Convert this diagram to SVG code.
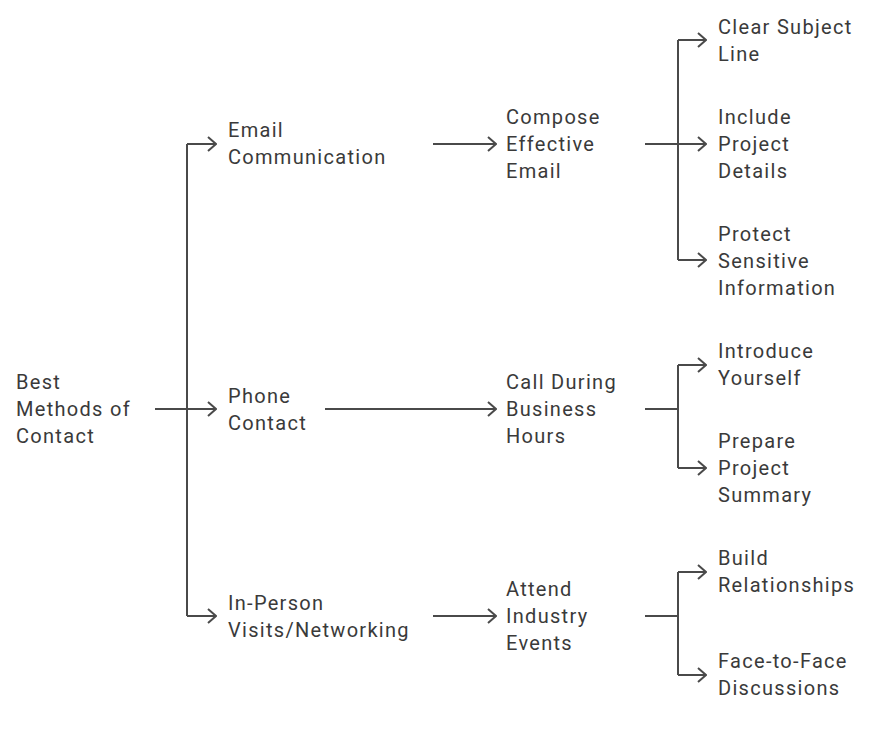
<svg xmlns="http://www.w3.org/2000/svg" width="878" height="729" viewBox="0 0 878 729">
<style>
text{font-family:Roboto,"Liberation Sans",sans-serif;font-size:20px;letter-spacing:1.3px;fill:#3a3a3a}
.c{fill:none;stroke:#4a4a4a;stroke-width:2}
</style>
<defs>
<marker id="a" viewBox="0 0 12 16" refX="11" refY="8" markerWidth="12" markerHeight="16" markerUnits="userSpaceOnUse" orient="auto">
<path d="M3,1 L11,8 L3,15" fill="none" stroke="#4a4a4a" stroke-width="2"/>
</marker>
</defs>
<rect width="878" height="729" fill="#fff"/>
<g id="connectors">
<path class="c" d="M155,409 H187"/>
<path class="c" d="M187,144 V616"/>
<path class="c" d="M187,144 H216" marker-end="url(#a)"/>
<path class="c" d="M187,409 H216" marker-end="url(#a)"/>
<path class="c" d="M187,616 H216" marker-end="url(#a)"/>
<path class="c" d="M433,144 H496" marker-end="url(#a)"/>
<path class="c" d="M325,409 H496" marker-end="url(#a)"/>
<path class="c" d="M433,616 H496" marker-end="url(#a)"/>
<path class="c" d="M645,144 H678"/>
<path class="c" d="M678,40 V260"/>
<path class="c" d="M678,40 H706" marker-end="url(#a)"/>
<path class="c" d="M678,144 H706" marker-end="url(#a)"/>
<path class="c" d="M678,260 H706" marker-end="url(#a)"/>
<path class="c" d="M645,409 H678"/>
<path class="c" d="M678,365 V468"/>
<path class="c" d="M678,365 H706" marker-end="url(#a)"/>
<path class="c" d="M678,468 H706" marker-end="url(#a)"/>
<path class="c" d="M645,616 H678"/>
<path class="c" d="M678,572 V675"/>
<path class="c" d="M678,572 H706" marker-end="url(#a)"/>
<path class="c" d="M678,675 H706" marker-end="url(#a)"/>
</g>
<g id="root"><text x="16" y="389">Best</text><text x="16" y="416">Methods of</text><text x="16" y="443">Contact</text></g>
<g id="email"><text x="228" y="137">Email</text><text x="228" y="164">Communication</text></g>
<g id="phone"><text x="228" y="403">Phone</text><text x="228" y="430">Contact</text></g>
<g id="inperson"><text x="228" y="610">In-Person</text><text x="228" y="637">Visits/Networking</text></g>
<g id="compose"><text x="506" y="124">Compose</text><text x="506" y="151">Effective</text><text x="506" y="178">Email</text></g>
<g id="call"><text x="506" y="389">Call During</text><text x="506" y="416">Business</text><text x="506" y="443">Hours</text></g>
<g id="attend"><text x="506" y="596">Attend</text><text x="506" y="623">Industry</text><text x="506" y="650">Events</text></g>
<g id="subject"><text x="718" y="34">Clear Subject</text><text x="718" y="61">Line</text></g>
<g id="details"><text x="718" y="124">Include</text><text x="718" y="151">Project</text><text x="718" y="178">Details</text></g>
<g id="protect"><text x="718" y="241">Protect</text><text x="718" y="268">Sensitive</text><text x="718" y="295">Information</text></g>
<g id="introduce"><text x="718" y="358">Introduce</text><text x="718" y="385">Yourself</text></g>
<g id="summary"><text x="718" y="448">Prepare</text><text x="718" y="475">Project</text><text x="718" y="502">Summary</text></g>
<g id="relationships"><text x="718" y="565">Build</text><text x="718" y="592">Relationships</text></g>
<g id="facetoface"><text x="718" y="668">Face-to-Face</text><text x="718" y="695">Discussions</text></g>
</svg>
